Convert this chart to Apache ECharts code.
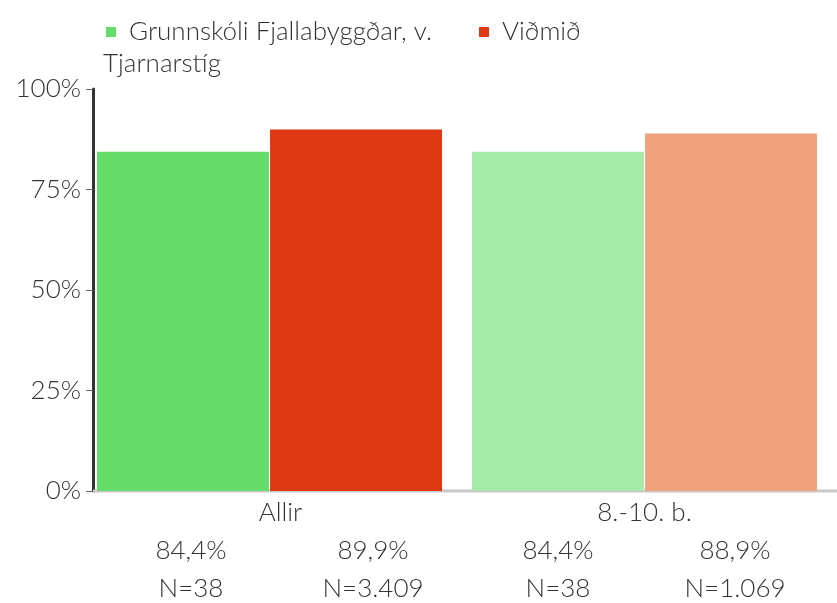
<!DOCTYPE html>
<html>
<head>
<meta charset="utf-8">
<script src="https://cdn.jsdelivr.net/npm/echarts@6/dist/echarts.min.js"></script>
<style>
  html, body { margin: 0; padding: 0; background: #fff; }
  #main { width: 837px; height: 603px; }
</style>
</head>
<body>
<div id="main"></div>
<script>
var categories = ["Allir", "8.-10. b."];
var schoolName = "Grunnskóli Fjallabyggðar, v. Tjarnarstíg";
var benchName = "Viðmið";
var schoolValues = [84.4, 84.4];
var benchValues = [89.9, 88.9];
var schoolN = ["38", "38"];
var benchN = ["3.409", "1.069"];
var schoolColors = ["#66dd6a", "#a6eaa8"];
var benchColors = ["#dd3913", "#f0a27e"];
var yTicks = [0, 25, 50, 75, 100];

var font = "Lato";
var fs = 26;
var fw = 300;

// the under-bar labels sit a little right of the bar centres in the original
var schoolShift = [8, 0];
var benchShift = [17, 4];

function fmt(v) {
  return v.toFixed(1).replace(".", ",") + "%";
}

function barLabel(nList) {
  return {
    show: true,
    position: "bottom",
    distance: 41,
    color: "#333",
    fontFamily: font,
    fontSize: fs,
    fontWeight: fw,
    lineHeight: 38,
    formatter: function (p) {
      return fmt(p.value) + "\nN=" + nList[p.dataIndex];
    }
  };
}

var myChart = echarts.init(document.getElementById("main"));

var option = {
  animation: false,
  textStyle: { fontFamily: font },
  title: {
    text: "Tjarnarstíg",
    left: 98,
    top: 46,
    textStyle: { fontFamily: font, fontSize: fs, fontWeight: fw, color: "#333" }
  },
  legend: [
    {
      data: [schoolName],
      left: 101,
      top: 14,
      icon: "rect",
      itemWidth: 10,
      itemHeight: 10,
      formatter: function () { return "Grunnskóli Fjallabyggðar, v."; },
      textStyle: { fontFamily: font, fontSize: fs, fontWeight: fw, color: "#333", padding: [0, 0, 0, 8] }
    },
    {
      data: [benchName],
      left: 474,
      top: 14,
      icon: "rect",
      itemWidth: 10,
      itemHeight: 10,
      textStyle: { fontFamily: font, fontSize: fs, fontWeight: fw, color: "#333", padding: [0, 0, 0, 8] }
    }
  ],
  grid: { left: 82, right: 5, top: 89, bottom: 112 },
  xAxis: {
    type: "category",
    data: categories,
    axisLine: { show: false },
    axisTick: { show: false },
    axisLabel: {
      color: "#333",
      fontFamily: font,
      fontSize: fs,
      fontWeight: fw,
      margin: 9,
      formatter: function (v, i) { return i === 0 ? "{a|" + v + "}" : v; },
      rich: { a: { padding: [0, 0, 0, 22], fontFamily: font, fontSize: fs, fontWeight: fw, color: "#333" } }
    }
  },
  yAxis: {
    type: "value",
    min: 0,
    max: 100,
    interval: 25,
    offset: -11,
    axisLine: { show: true, lineStyle: { color: "#333", width: 3 } },
    axisTick: { show: true, length: 7, lineStyle: { color: "#666", width: 1 } },
    splitLine: { show: false },
    axisLabel: {
      color: "#333",
      fontFamily: font,
      fontSize: fs,
      fontWeight: fw,
      margin: 12,
      formatter: function (v) { return yTicks.indexOf(v) >= 0 ? v + "%" : ""; }
    }
  },
  graphic: [
    {
      type: "line",
      shape: { x1: 93, y1: 491, x2: 837, y2: 491 },
      style: { stroke: "#c8c8c8", lineWidth: 3 },
      z: 1
    }
  ],
  series: [
    {
      name: schoolName,
      type: "bar",
      barGap: "0.6%",
      barCategoryGap: "8%",
      itemStyle: { color: schoolColors[0] },
      label: barLabel(schoolN),
      data: schoolValues.map(function (v, i) {
        return { value: v, itemStyle: { color: schoolColors[i] }, label: { offset: [schoolShift[i], 0] } };
      })
    },
    {
      name: benchName,
      type: "bar",
      itemStyle: { color: benchColors[0] },
      label: barLabel(benchN),
      data: benchValues.map(function (v, i) {
        return { value: v, itemStyle: { color: benchColors[i] }, label: { offset: [benchShift[i], 0] } };
      })
    }
  ]
};

myChart.setOption(option);
</script>
</body>
</html>
